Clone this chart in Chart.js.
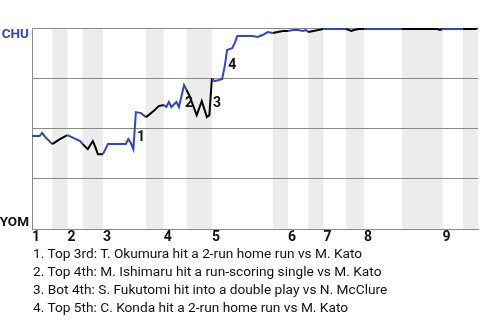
<!DOCTYPE html>
<html>
<head>
<meta charset="utf-8">
<script src="https://cdn.jsdelivr.net/npm/chart.js@4.4.1/dist/chart.umd.min.js"></script>
<style>
  html, body { margin: 0; padding: 0; background: #fff; }
  #wrap { position: relative; width: 480px; height: 320px; }
  #notes { position: absolute; left: 33px; top: 244px; font: 13.7px Roboto, sans-serif; line-height: 18px; color: #111; white-space: nowrap; }
</style>
</head>
<body>
<div id="wrap">
  <canvas id="chart" width="480" height="320"></canvas>
  <div id="notes"></div>
</div>
<script>
// half-inning boundaries, in game-event steps (top 1st, bot 1st, top 2nd, ...)
const halfInnings = [0, 8, 14, 20, 28, 45, 52, 61, 71, 95, 101, 109, 115, 124, 131, 146, 162, 170, 176];
const inningLabels = ['1', '2', '3', '4', '5', '6', '7', '8', '9'];

// CHU win probability after each event
const eventIdx = [0, 3, 4, 5, 8, 11, 14, 19, 20, 22, 24, 25, 26, 28, 30, 37, 38, 39, 40, 41, 43, 45,
  48, 50, 52, 53, 54, 55, 57, 58, 60, 61, 62, 65, 67, 69, 70, 71, 72, 75, 76, 77, 79, 80, 81, 87, 89,
  91, 93, 95, 97, 99, 101, 103, 105, 107, 108, 109, 111, 113, 115, 124, 126, 127, 129, 131, 146, 160,
  161, 162, 170, 175, 176];
const winProb = [0.463, 0.463, 0.479, 0.461, 0.423, 0.448, 0.468, 0.438, 0.423, 0.398, 0.438, 0.408,
  0.373, 0.373, 0.423, 0.423, 0.448, 0.428, 0.398, 0.582, 0.577, 0.557,
  0.587, 0.612, 0.617, 0.607, 0.632, 0.607, 0.632, 0.607, 0.716, 0.692, 0.667, 0.567, 0.637, 0.557,
  0.567, 0.751, 0.736, 0.746, 0.806, 0.891, 0.900, 0.925, 0.960, 0.960, 0.955,
  0.965, 0.980, 0.975, 0.980, 0.985, 0.985, 0.990, 0.990, 0.985, 0.990, 0.980, 0.985, 0.990, 0.995,
  0.995, 0.985, 0.990, 0.995, 0.995, 0.995, 0.995,
  0.990, 0.995, 0.995, 0.995, 1.0];

const noteEvents = [41, 60, 71, 77];
const notes = [
  'Top 3rd: T. Okumura hit a 2-run home run vs M. Kato',
  'Top 4th: M. Ishimaru hit a run-scoring single vs M. Kato',
  'Bot 4th: S. Fukutomi hit into a double play vs N. McClure',
  'Top 5th: C. Konda hit a 2-run home run vs M. Kato'
];

const blue = '#3045cc';
const grey = '#8a8a8a';
const boldFont = 'Roboto, sans-serif';

const inningStarts = halfInnings.filter((v, i) => i % 2 === 0 && i < halfInnings.length - 1);

function isTopHalf(v) {
  for (let i = 0; i < halfInnings.length - 1; i++) {
    if (v >= halfInnings[i] && v < halfInnings[i + 1]) return i % 2 === 0;
  }
  return false;
}

document.getElementById('notes').innerHTML =
  notes.map((n, i) => (i + 1) + '. ' + n).join('<br>');

const bands = {
  id: 'bands',
  beforeDraw(chart) {
    const { ctx, chartArea, scales: { x } } = chart;
    ctx.save();
    ctx.fillStyle = '#ececec';
    for (let i = 1; i < halfInnings.length - 1; i += 2) {
      const x0 = x.getPixelForValue(halfInnings[i]);
      const x1 = x.getPixelForValue(halfInnings[i + 1]);
      ctx.fillRect(x0, chartArea.top, x1 - x0, chartArea.bottom - chartArea.top);
    }
    ctx.restore();
  }
};

const markers = {
  id: 'markers',
  afterDatasetsDraw(chart) {
    const { ctx, scales: { x, y } } = chart;
    ctx.save();
    ctx.font = 'bold 14px ' + boldFont;
    ctx.fillStyle = '#111';
    ctx.textBaseline = 'middle';
    noteEvents.forEach((ev, i) => {
      const k = eventIdx.indexOf(ev);
      const yMid = (y.getPixelForValue(winProb[k - 1]) + y.getPixelForValue(winProb[k])) / 2;
      ctx.fillText(String(i + 1), x.getPixelForValue(ev) + 1, yMid + 7);
    });
    ctx.restore();
  }
};

new Chart(document.getElementById('chart'), {
  type: 'line',
  data: {
    datasets: [{
      data: eventIdx.map((v, i) => ({ x: v, y: winProb[i] })),
      borderWidth: 2,
      borderColor: blue,
      pointRadius: 0,
      tension: 0,
      segment: {
        borderColor: ctx => isTopHalf((ctx.p0.parsed.x + ctx.p1.parsed.x) / 2) ? blue : '#000'
      }
    }]
  },
  options: {
    responsive: false,
    animation: false,
    layout: { padding: { top: 28, right: 2, bottom: 74, left: 0 } },
    plugins: { legend: { display: false }, tooltip: { enabled: false } },
    scales: {
      x: {
        type: 'linear',
        min: 0,
        max: 176,
        afterBuildTicks: axis => { axis.ticks = inningStarts.map(v => ({ value: v })); },
        grid: { display: false, drawTicks: false },
        border: { display: true, color: grey },
        ticks: {
          autoSkip: false,
          maxRotation: 0,
          align: 'start',
          padding: 0,
          color: '#111',
          font: { family: boldFont, size: 14, weight: 'bold', lineHeight: 1.2 },
          callback: (v, i) => inningLabels[i]
        }
      },
      y: {
        min: 0,
        max: 1,
        afterFit: axis => { axis.width = 32; },
        grid: { color: grey, drawTicks: false },
        border: { display: true, color: grey },
        ticks: {
          stepSize: 0.25,
          padding: 3,
          color: ctx => ctx.tick.value === 1 ? blue : '#111',
          font: { family: boldFont, size: 13.5, weight: 'bold', lineHeight: 1.0 },
          callback: v => v === 1 ? ['', 'CHU'] : v === 0 ? ['YOM', ''] : ''
        }
      }
    }
  },
  plugins: [bands, markers]
});
</script>
</body>
</html>
